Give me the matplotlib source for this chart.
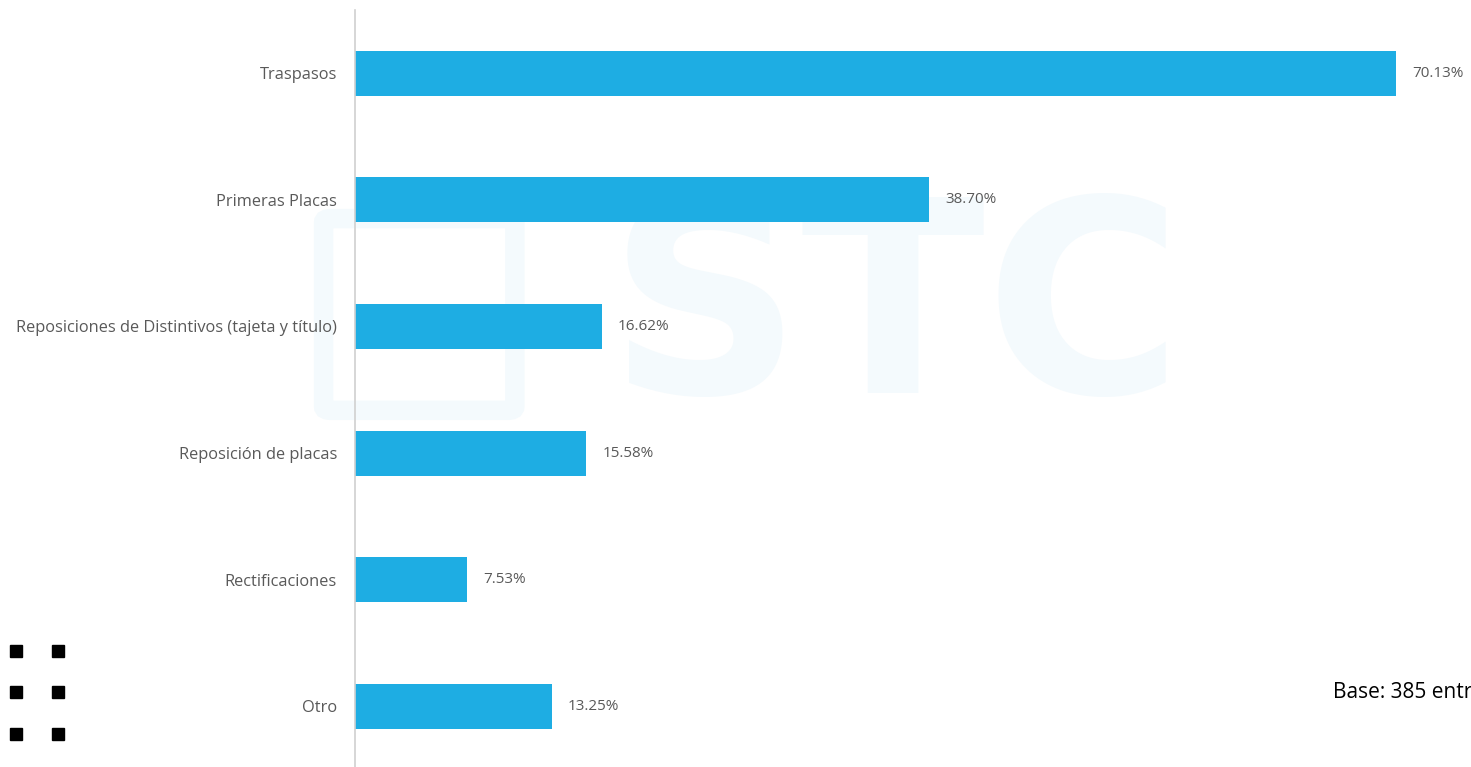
import matplotlib.pyplot as plt
from matplotlib.patches import Rectangle, FancyBboxPatch

categorias = ["Traspasos", "Primeras Placas",
              "Reposiciones de Distintivos (tajeta y título)",
              "Reposición de placas", "Rectificaciones", "Otro"]
porcentajes = [70.13, 38.70, 16.62, 15.58, 7.53, 13.25]
base_texto = "Base: 385 entrevistas"

azul = "#1eade3"
gris_texto = "#595959"
agua = "#f4fafd"

fig = plt.figure(figsize=(14.71, 7.67), dpi=100)

# marca de agua tenue al fondo, en un eje propio por debajo de las barras
fondo = fig.add_axes([0, 0, 1, 1], zorder=0)
fondo.axis("off")
fondo.set_xlim(0, 1)
fondo.set_ylim(0, 1)
fondo.text(0.413, 0.585, "STC", fontsize=194, fontweight="bold", color=agua,
           ha="left", va="center", family="DejaVu Sans")
fondo.add_patch(FancyBboxPatch((0.225, 0.47), 0.12, 0.24, boxstyle="round,pad=0.005",
                               fill=False, ec=agua, lw=14))

ax = fig.add_axes([355 / 1471, 0, 1116 / 1471, 757 / 767], zorder=1)
ax.patch.set_alpha(0)

y = range(len(categorias))
ax.barh(y, porcentajes, height=0.355, color=azul, zorder=2)
for i, v in enumerate(porcentajes):
    ax.text(v + 1.1, i, f"{v:.2f}%", va="center", ha="left",
            fontsize=11, color=gris_texto, family="Open Sans")

ax.set_xlim(0, 75.2)
ax.set_ylim(5.48, -0.5)
ax.set_yticks(list(y))
ax.set_yticklabels(categorias, fontsize=11.8, color=gris_texto, family="Open Sans")
ax.tick_params(axis="y", length=0, pad=13)
ax.set_xticks([])
for s in ["top", "right", "bottom"]:
    ax.spines[s].set_visible(False)
ax.spines["left"].set_color("#d0d0d0")
ax.spines["left"].set_linewidth(1.2)

fig.text(1333 / 1471, 1 - 692 / 767, base_texto, fontsize=15, color="black",
         ha="left", va="center", family="Open Sans", zorder=3)

# viñetas negras de la esquina
for fy in [651, 692, 734]:
    for fx in [10, 52]:
        fig.patches.append(Rectangle((fx / 1471, 1 - (fy + 6) / 767), 12 / 1471, 12 / 767,
                                     transform=fig.transFigure, color="black"))

fig.savefig("out.png", dpi=100)
